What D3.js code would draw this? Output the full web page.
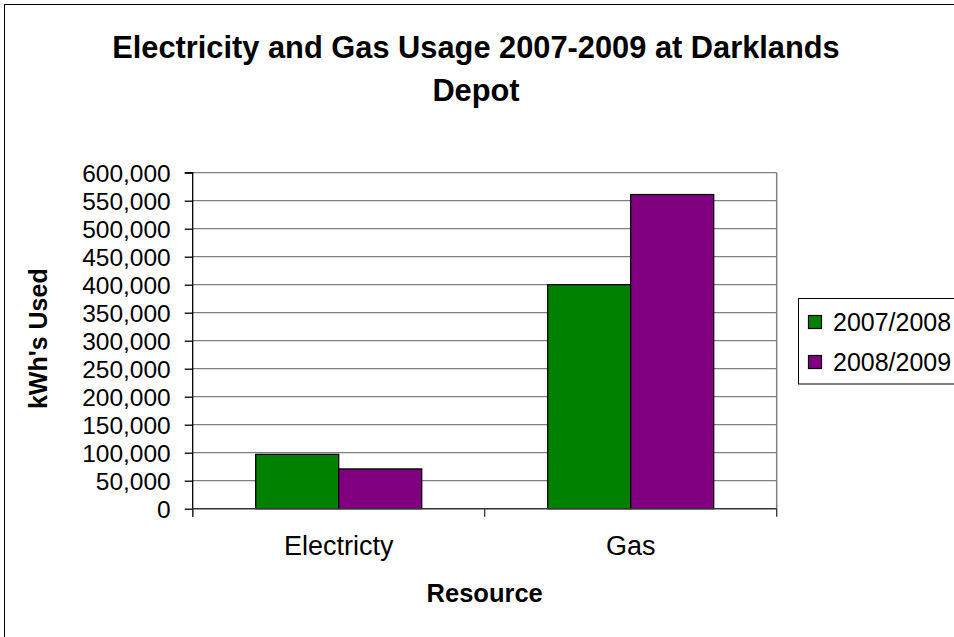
<!DOCTYPE html>
<html>
<head>
<meta charset="utf-8">
<script src="https://cdn.jsdelivr.net/npm/d3@7"></script>
<style>
  html, body { margin: 0; padding: 0; background: #fff; }
  svg { display: block; font-family: "Liberation Sans", Arial, sans-serif; }
</style>
</head>
<body>
<svg id="chart" width="954" height="637"></svg>
<script>
// Annual usage per resource, in kWh
const categories = ["Electricty", "Gas"];
const seriesNames = ["2007/2008", "2008/2009"];
const usage2007 = [97000, 400000];
const usage2008 = [71000, 561000];
const yTicks = [0, 50000, 100000, 150000, 200000, 250000, 300000,
                350000, 400000, 450000, 500000, 550000, 600000];
const seriesColors = ["#008000", "#800080"];

const rows = categories.map((c, i) => ({
  category: c,
  values: [usage2007[i], usage2008[i]]
}));

const svg = d3.select("#chart");

// Chart area frame
svg.append("rect")
  .attr("x", 4.5).attr("y", 4.5)
  .attr("width", 960).attr("height", 650)
  .attr("fill", "#fff").attr("stroke", "#000").attr("stroke-width", 1);

const plot = { left: 192.7, right: 776.7, top: 172.7, bottom: 508.7 };

const y = d3.scaleLinear().domain([0, 600000]).range([plot.bottom, plot.top]);
const x0 = d3.scaleBand().domain(categories)
  .range([plot.left, plot.right])
  .paddingInner(0.4315).paddingOuter(0.2158);
const x1 = d3.scaleBand().domain(seriesNames).range([0, x0.bandwidth()]);

// Gridlines
svg.append("g")
  .selectAll("line")
  .data(yTicks.filter(t => t > 0))
  .join("line")
  .attr("x1", plot.left).attr("x2", plot.right)
  .attr("y1", d => y(d)).attr("y2", d => y(d))
  .attr("stroke", "#808080").attr("stroke-width", 1.3);

// Plot border on the right
svg.append("line")
  .attr("x1", plot.right).attr("x2", plot.right)
  .attr("y1", plot.top).attr("y2", plot.bottom)
  .attr("stroke", "#808080").attr("stroke-width", 1.5);

// Bars
const groups = svg.append("g")
  .selectAll("g")
  .data(rows)
  .join("g")
  .attr("transform", d => `translate(${x0(d.category)},0)`);

groups.selectAll("rect")
  .data(d => d.values.map((v, i) => ({ key: seriesNames[i], value: v, i })))
  .join("rect")
  .attr("x", d => x1(d.key))
  .attr("y", d => y(d.value))
  .attr("width", x1.bandwidth())
  .attr("height", d => y(0) - y(d.value))
  .attr("fill", d => seriesColors[d.i])
  .attr("stroke", "#000").attr("stroke-width", 1.3);

// Y axis
const yAxis = d3.axisLeft(y)
  .tickValues(yTicks)
  .tickSize(8)
  .tickPadding(14)
  .tickFormat(d3.format(","));
const yG = svg.append("g")
  .attr("transform", `translate(${plot.left},0)`)
  .call(yAxis);
yG.select(".domain").attr("stroke", "#000").attr("stroke-width", 1.3)
  .attr("d", `M-8,${plot.top}H0V${plot.bottom + 8}`);
yG.selectAll(".tick line").attr("stroke", "#000").attr("stroke-width", 1.3);
yG.selectAll(".tick text")
  .attr("fill", "#000")
  .style("font-size", "24.5px")
  .attr("dy", "0.36em");

// X axis with ticks at category boundaries
const xG = svg.append("g")
  .attr("transform", `translate(0,${plot.bottom})`);
xG.append("line")
  .attr("x1", plot.left).attr("x2", plot.right)
  .attr("stroke", "#333").attr("stroke-width", 1.5);
const boundaries = [plot.left, (x0(categories[0]) + x0.bandwidth() + x0(categories[1])) / 2, plot.right];
xG.selectAll("line.bt")
  .data(boundaries)
  .join("line")
  .attr("class", "bt")
  .attr("x1", d => d).attr("x2", d => d)
  .attr("y1", 0).attr("y2", 8)
  .attr("stroke", "#333").attr("stroke-width", 1.3);
xG.selectAll("text")
  .data(categories)
  .join("text")
  .attr("x", d => x0(d) + x0.bandwidth() / 2)
  .attr("y", 46)
  .attr("text-anchor", "middle")
  .style("font-size", "27px")
  .text(d => d);

// Titles
const title = svg.append("text")
  .attr("text-anchor", "middle")
  .style("font-size", "30.8px")
  .style("font-weight", "bold");
title.append("tspan").attr("x", 476).attr("y", 58).text("Electricity and Gas Usage 2007-2009 at Darklands");
title.append("tspan").attr("x", 476).attr("y", 101).text("Depot");

svg.append("text")
  .attr("x", 484.7).attr("y", 602)
  .attr("text-anchor", "middle")
  .style("font-size", "25.5px")
  .style("font-weight", "bold")
  .text("Resource");

svg.append("text")
  .attr("transform", `translate(47,${(plot.top + plot.bottom) / 2 - 2}) rotate(-90)`)
  .attr("text-anchor", "middle")
  .style("font-size", "25px")
  .style("font-weight", "bold")
  .text("kWh's Used");

// Legend
const legend = svg.append("g");
legend.append("rect")
  .attr("x", 798.5).attr("y", 298.5)
  .attr("width", 200).attr("height", 85.5)
  .attr("fill", "#fff").attr("stroke", "#000").attr("stroke-width", 1);
const items = legend.selectAll("g")
  .data(seriesNames)
  .join("g")
  .attr("transform", (d, i) => `translate(808,${322 + i * 40})`);
items.append("rect")
  .attr("x", 0.5).attr("y", -6.5)
  .attr("width", 13).attr("height", 13)
  .attr("fill", (d, i) => seriesColors[i])
  .attr("stroke", "#000").attr("stroke-width", 1.2);
items.append("text")
  .attr("x", 25).attr("y", 0)
  .attr("dy", "0.36em")
  .style("font-size", "25px")
  .text(d => d);
</script>
</body>
</html>
